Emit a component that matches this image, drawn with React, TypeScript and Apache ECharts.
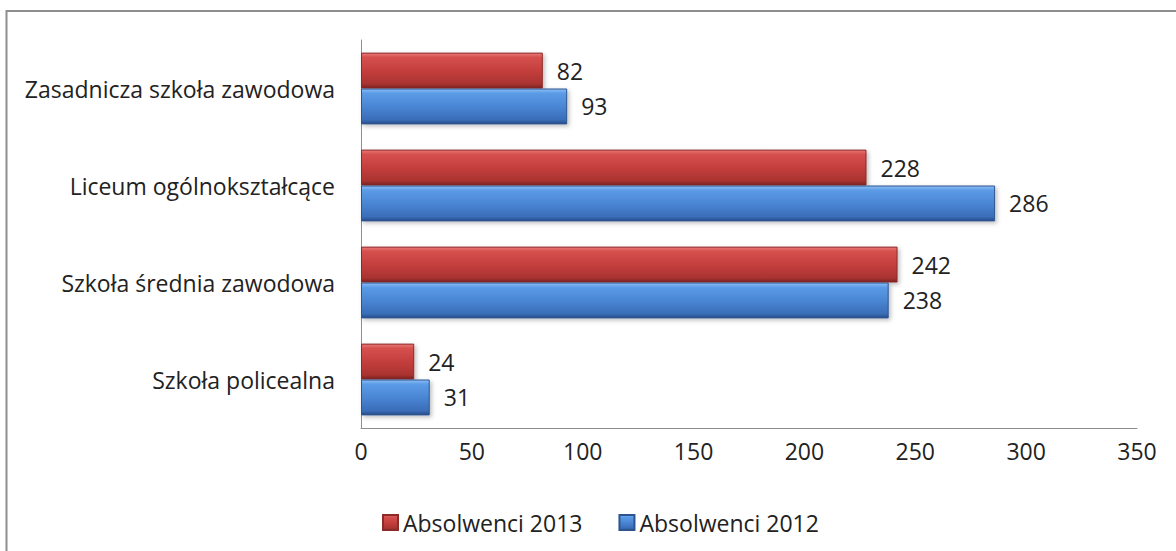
import React, { useEffect, useRef } from "react";
import * as echarts from "echarts";

const categories = [
  "Zasadnicza szkoła zawodowa",
  "Liceum ogólnokształcące",
  "Szkoła średnia zawodowa",
  "Szkoła policealna",
];
const seriesNames = ["Absolwenci 2013", "Absolwenci 2012"];
const values2013 = [82, 228, 242, 24];
const values2012 = [93, 286, 238, 31];
const axisMax = 350;
const axisInterval = 50;

const FONT = "Open Sans";
const FS = 23;

const redGrad = new echarts.graphic.LinearGradient(0, 0, 0, 1, [
  { offset: 0, color: "#e87a78" },
  { offset: 0.12, color: "#d5504e" },
  { offset: 0.5, color: "#c43f3d" },
  { offset: 0.88, color: "#aa3331" },
  { offset: 1, color: "#7c2322" },
]);
const blueGrad = new echarts.graphic.LinearGradient(0, 0, 0, 1, [
  { offset: 0, color: "#8ebff5" },
  { offset: 0.12, color: "#5c9be6" },
  { offset: 0.5, color: "#4a86d4" },
  { offset: 0.88, color: "#3a6db8" },
  { offset: 1, color: "#274d88" },
]);

export default function App() {
  const ref = useRef<HTMLDivElement>(null);
  useEffect(() => {
    document.body.style.margin = "0";
    const chart = echarts.init(ref.current!, null, { renderer: "svg" });
    const labelStyle = {
      show: true,
      position: "right" as const,
      distance: 14,
      fontFamily: FONT,
      fontSize: FS,
      color: "#222",
    };
    chart.setOption({
      animation: false,
      backgroundColor: "#ffffff",
      textStyle: { fontFamily: FONT },
      graphic: [
        {
          type: "rect",
          shape: { x: 6.5, y: 11, width: 1300, height: 700 },
          style: { fill: "none", stroke: "#8e8e8e", lineWidth: 2 },
          silent: true,
        },
      ],
      grid: { left: 361, right: 39, top: 40, bottom: 123, containLabel: false },
      legend: {
        bottom: 12,
        left: 377,
        itemWidth: 15,
        itemHeight: 15,
        itemGap: 36,
        icon: "rect",
        textStyle: { fontFamily: FONT, fontSize: FS, color: "#222" },
        data: seriesNames,
      },
      xAxis: {
        type: "value",
        min: 0,
        max: axisMax,
        interval: axisInterval,
        axisLine: { show: true, lineStyle: { color: "#8e8e8e", width: 1 } },
        axisTick: { show: false },
        splitLine: { show: false },
        axisLabel: { fontFamily: FONT, fontSize: FS, color: "#222", margin: 11 },
      },
      yAxis: {
        type: "category",
        inverse: true,
        data: categories,
        axisLine: { show: true, lineStyle: { color: "#8e8e8e", width: 1 } },
        axisTick: { show: false },
        axisLabel: { fontFamily: FONT, fontSize: FS, color: "#222", margin: 26 },
      },
      series: [
        {
          name: seriesNames[0],
          type: "bar",
          data: values2013,
          barGap: "0%",
          barCategoryGap: "26%",
          itemStyle: {
            color: redGrad,
            borderColor: "#8c2a29",
            borderWidth: 1,
            shadowColor: "rgba(0,0,0,0.25)",
            shadowBlur: 4,
            shadowOffsetX: 2,
            shadowOffsetY: 2,
          },
          label: labelStyle,
        },
        {
          name: seriesNames[1],
          type: "bar",
          data: values2012,
          barGap: "0%",
          barCategoryGap: "26%",
          itemStyle: {
            color: blueGrad,
            borderColor: "#2c548f",
            borderWidth: 1,
            shadowColor: "rgba(0,0,0,0.25)",
            shadowBlur: 4,
            shadowOffsetX: 2,
            shadowOffsetY: 2,
          },
          label: labelStyle,
        },
      ],
    });
    return () => chart.dispose();
  }, []);
  return <div ref={ref} style={{ width: 1176, height: 551 }} />;
}
